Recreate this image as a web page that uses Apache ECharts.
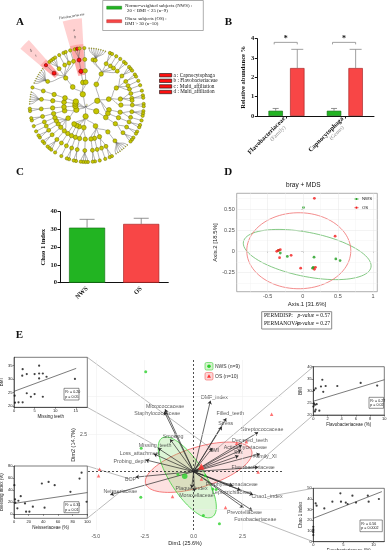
<!DOCTYPE html>
<html><head><meta charset="utf-8">
<script src="https://cdn.jsdelivr.net/npm/echarts@6/dist/echarts.min.js"></script>
<style>html,body{margin:0;padding:0;background:#fff}#c{width:389px;height:550px}</style>
</head><body><div id="c"></div>
<script>
// ================= DATA =================
// Panel A : cladogram taxa  [phylum,[ [class,[ [order,[ [family, genera] ]] ]] ]]
const cladeTaxa = [
 ['Firmicutes', [
   ['Clostridia', [['Clostridiales', [['Peptococcaceae',0],['Lachnospiraceae',8],['Peptostreptococcaceae',2],['Family_XIII',1],['Clostridiaceae',1],['Ruminococcaceae',2]]]]],
   ['Bacilli', [
     ['Lactobacillales', [['Streptococcaceae',3],['Carnobacteriaceae',2],['Lactobacillaceae',1],['Aerococcaceae',1]]],
     ['Bacillales', [['Staphylococcaceae',1],['Family_XI',2],['Bacillaceae',0]]],
     ['Gemellales', [['Gemellaceae',2]]]]],
   ['Negativicutes', [['Selenomonadales', [['Veillonellaceae',3],['Acidaminococcaceae',1]]]]],
   ['Erysipelotrichia', [['Erysipelotrichales', [['Erysipelotrichaceae',2]]]]]
 ]],
 ['Fusobacteria', [['Fusobacteriia', [['Fusobacteriales', [['Fusobacteriaceae',2],['Leptotrichiaceae',3]]]]]]],
 ['Proteobacteria', [
   ['Gammaproteobacteria', [
     ['Pasteurellales', [['Pasteurellaceae',7]]],
     ['Pseudomonadales', [['Moraxellaceae',2],['Pseudomonadaceae',1]]],
     ['Enterobacterales', [['Enterobacteriaceae',1]]],
     ['Cardiobacteriales', [['Cardiobacteriaceae',2]]]]],
   ['Betaproteobacteria', [['Neisseriales', [['Neisseriaceae',4]]],['Burkholderiales', [['Burkholderiaceae',2]]]]],
   ['Epsilonproteobacteria', [['Campylobacterales', [['Campylobacteraceae',2]]]]],
   ['Alphaproteobacteria', [['Rhizobiales', [['Rhizobiaceae',1]]]]],
   ['Deltaproteobacteria', [['Desulfovibrionales', [['Desulfovibrionaceae',1]]]]]
 ]],
 ['Actinobacteria', [
   ['Actinobacteria_c', [
     ['Actinomycetales', [['Actinomycetaceae',3]]],
     ['Micrococcales', [['Micrococcaceae',2]]],
     ['Corynebacteriales', [['Corynebacteriaceae',2]]],
     ['Propionibacteriales', [['Propionibacteriaceae',1]]],
     ['Bifidobacteriales', [['Bifidobacteriaceae',1]]]]],
   ['Coriobacteriia', [['Coriobacteriales', [['Coriobacteriaceae',2]]]]]
 ]],
 ['Spirochaetes', [['Spirochaetia', [['Spirochaetales', [['Spirochaetaceae',2]]]]]]],
 ['Saccharibacteria', [['Saccharimonadia', [['Saccharimonadales', [['Saccharimonadaceae',6]]]]]]],
 ['Synergistetes', [['Synergistia', [['Synergistales', [['Synergistaceae',1]]]]]]],
 ['Bacteroidetes', [
   ['Bacteroidia', [['Bacteroidales', [['Prevotellaceae',8],['Multi_affiliation',['Multi_affiliation']],['Porphyromonadaceae',4],['Bacteroidaceae',1],['Tannerellaceae',2],['Rikenellaceae',1]]]]],
   ['Flavobacteriia', [['Flavobacteriales', [['Flavobacteriaceae',['Bergeyella','Capnocytophaga','Flavobacterium']]]]]],
   ['Sphingobacteriia', [['Sphingobacteriales', [['Sphingobacteriaceae',1]]]]]
 ]]
];
const lefseTaxa = ['Flavobacteriales','Flavobacteriaceae','Capnocytophaga','Multi_affiliation'];
const lefseLegend = ['a : Capnocytophaga','b : Flavobacteriaceae','c : Multi_affiliation','d : Multi_affiliation'];

// Panel B
const bCategories = ['Flavobacteriaceae','Capnocytophaga'];
const bRanks = ['(Family)','(Genus)'];
const bNWS = [0.27, 0.27];
const bNWSerr = [0.12, 0.12];
const bOS = [2.48, 2.48];
const bOSerr = [0.97, 0.97];
const bSigLevel = [3.81, 3.81];

// Panel C
const cGroups = ['NWS','OS'];
const cChao = [31.0, 33.1];
const cChaoErr = [4.7, 3.2];

// Panel D (bray + MDS)
const dNWS = [[0.01,0.52],[-0.32,-0.02],[-0.22,-0.06],[0.16,-0.07],[0.14,-0.20],[0.47,-0.09],[0.53,-0.11],[-0.34,0.01],[0.15,-0.19]];
const dOS = [[0.165,0.63],[0.46,0.18],[-0.37,0.0],[-0.35,0.01],[-0.32,0.02],[-0.33,-0.076],[-0.166,-0.048],[-0.03,-0.2],[0.165,-0.214],[0.18,-0.19]];
const dEllNWS = {center:[0.063,-0.038], u:[0.907,-0.152], v:[-0.061,-0.257]};
const dEllOS = {center:[-0.057,0.007], u:[0.74,0.0], v:[0.0,0.452]};
const dXTicks = [-0.5,0,0.5,1];
const dYTicks = [-0.25,0,0.25,0.5];

// Panel E (PCA biplot)
const eNWS = [[-2.45,6.67],[-2.68,1.56],[-2.7,-1.72],[-0.8,-0.2],[0.59,-0.27],[0.98,-1.17],[1.15,-1.2],[0.5,-2.93],[1.32,-3.49]];
const eOS = [[3.99,3.83],[2.7,2.0],[3.3,-0.02],[-4.81,0.16],[-4.86,-0.27],[-1.08,-1.67],[1.63,-2.4],[0.4,-0.5],[0.45,0.3],[2.2,1.9]];
const eEllNWS = {center:[-0.325,-0.387], u:[1.29,-2.63], v:[0.74,0.61]};
const eEllOS = {center:[0.26,0.29], u:[2.71,1.10], v:[0.31,-1.27]};
const eVarNames = ['DMF_index','Filled_teeth','Stress','Streptococcaceae','Decayed_teeth','Actinomycetaceae','BMI','Sex','Family_XI','Flavobacteriaceae','Chao1_index','Fusobacteriaceae','Prevotellaceae','Leptotrichiaceae','Porphyromonadaceae','Moraxellaceae','Plaque_index','Micrococcaceae','Staphylococcaceae','Smoking','Missing_teeth','Loss_attachment','Probing_depth','BOP','Neisseriaceae'];
const eVarX = [0.86,1.67,1.44,3.3,2.47,2.44,0.96,2.3,3.39,3.3,3.04,3.0,2.55,2.4,2.0,0.04,-0.1,-1.46,-1.5,-1.2,-1.82,-2.03,-2.45,-2.97,-4.26];
const eVarY = [4.73,3.56,3.0,2.62,1.78,1.45,1.58,1.05,1.18,0.29,-1.55,-2.6,-2.4,-1.25,-0.95,-1.33,-1.1,4.16,4.0,2.16,1.56,1.18,0.78,-0.37,-1.55];
const eXTicks = [-5,-2.5,0,2.5];
const eYTicks = [2.5];

// Panel E insets
const tlMissingTeeth = [0.24,0.16,1.1,2.1,2.1,2.0,3.1,3.1,4.1,5.0,5.0,6.1,6.1,6.1,7.0,7.0,7.9,14.8];
const tlBMI = [21.2,23.8,21.35,21.35,33.6,31.2,31.8,24.7,23.4,31.8,24.4,34.9,32.0,30.2,32.0,23.4,30.8,30.0];
const tlFit = [[0,25.4],[15.1,33.9]];
const tlStats = ['R² = 0.20','p = 0.05'];
const blNeisseriaceae = [0.5,1.4,1.8,4.6,6,9.2,15,16.5,21,25.7,38,41.7,47.2,55.5,77,89.4,92.2,99];
const blBleeding = [48.2,24.7,19.2,9.9,22.5,30.1,18,4.4,4.4,12.6,51,11,53.7,48.2,37.3,59.2,69,20.8];
const blFit = [[0,18],[100,36]];
const blStats = ['R² = 0.31','p = 0.01'];
const trFlavo = [0.1,0.33,1.08,1.27,1.4,1.74,3.38,6.67,9.0,0.1,0.23,0.47,0.02,0.33,0.23,0.85];
const trBMI = [30.3,31,31.8,34.6,29.6,32.0,32,33.3,32.2,24.8,24.2,24.5,23.5,22.2,21.5,21.8];
const trFit = [[0,25.7],[10,34.6]];
const trStats = ['R² = 0.27','p = 0.02'];
const brFuso = [0.39,0.55,1.83,3.17,4.6,4.5,5.4,5.7,6.5,7.1,9.06,9.2,10.9,0,0,0,0,0];
const brChao = [35.9,33.7,31.2,37.5,37.5,45.3,36.6,35.3,43.1,36.6,43.1,37.5,40,14,11.6,10.3,8.75,6.25];
const brFit = [[0,21.9],[11.4,46.9]];
const brStats = ['R² = 0.56','p = 0.0002'];

// ================= STYLE / LAYOUT =================
const serif = '"Liberation Serif","Times New Roman",serif';
const sans = '"Liberation Sans",Arial,sans-serif';
const cGreen = '#22b422', cGreenDark = '#0b6a0b', cRed = '#f84646', cRedDark = '#9e1a1a';
const eVarLabelOffset = [[4,-3],[4,-5],[4,-3],[4,-3],[8,-4],[4,-2],[2,3],[0,-3],[5,3],[-5,0],[14,2],[3,9],[1,5],[-9,2],[-1,-1],[2,4],[0,0],[0,-3],[-7,2],[3,-3],[-3,-3],[-14,0],[-15,2],[-5,2],[10,-3]];
const treeBox = {left:29.7, top:48, size:114};
const depthSize = [2, 5.4, 4.8, 4.4, 4.0, 3.3];

function mkNode(name, depth, kids, size){
  const n = {name, symbolSize: size!=null?size:depthSize[depth]};
  if (lefseTaxa.includes(name)) n.itemStyle = {color:'#ff1010', borderColor:'#700', borderWidth:0.6};
  if (kids && kids.length) n.children = kids;
  return n;
}
function buildFamily(f){
  const names = typeof f[1]==='number' ? Array.from({length:f[1]},(_,i)=>f[0]+'_g'+(i+1)) : f[1];
  const fan = names.length >= 6;
  return mkNode(f[0], 4, names.map(g=>mkNode(g,5,null, fan?0.8:undefined)));
}
const cladeRoot = mkNode('Bacteria', 0, cladeTaxa.map(p=>mkNode(p[0],1,p[1].map(c=>mkNode(c[0],2,c[1].map(o=>mkNode(o[0],3,o[1].map(buildFamily))))))));
cladeRoot.itemStyle = {color:'#e8e8a0', borderColor:'#999', borderWidth:0.3};

function ellipseSeries(ai, spec, stroke, fill, lw, z){
  return {type:'custom', xAxisIndex:ai, yAxisIndex:ai, silent:true, z:z||1, data:[spec.center],
    renderItem:(params, api)=>{
      const pts=[];
      for(let k=0;k<90;k++){const t=k/90*2*Math.PI;
        pts.push(api.coord([spec.center[0]+Math.cos(t)*spec.u[0]+Math.sin(t)*spec.v[0], spec.center[1]+Math.cos(t)*spec.u[1]+Math.sin(t)*spec.v[1]]));}
      return {type:'polygon', shape:{points:pts}, style:{fill:fill, stroke:stroke, lineWidth:lw}};
    }};
}
function errorBarSeries(ai, vals, errs, offset, capHalf, color){
  return {type:'custom', xAxisIndex:ai, yAxisIndex:ai, silent:true, z:3,
    data: vals.map((v,i)=>[i, v, v+errs[i]]),
    renderItem:(params, api)=>{
      const p0=api.coord([api.value(0), api.value(1)]), p1=api.coord([api.value(0), api.value(2)]);
      const x=p0[0]+offset;
      return {type:'group', children:[
        {type:'line', shape:{x1:x,y1:p0[1],x2:x,y2:p1[1]}, style:{stroke:color, lineWidth:0.8}},
        {type:'line', shape:{x1:x-capHalf,y1:p1[1],x2:x+capHalf,y2:p1[1]}, style:{stroke:color, lineWidth:0.8}}]};
    }};
}
const prismAxisLine = {show:true, lineStyle:{color:'#111', width:1}};
const insetLine = {show:true, lineStyle:{color:'#222', width:0.6}};
const insetTick = {show:true, length:1.5, lineStyle:{color:'#222', width:0.5}};
const insetLabel = {fontSize:4, color:'#222', margin:1.5, fontFamily:sans};
const insetName = {fontSize:4.5, color:'#222', fontFamily:sans};
function insetX(gi, min, max, name, ticks, interval){
  const a = {type:'value', gridIndex:gi, min, max, name, nameLocation:'middle', nameGap:7, nameTextStyle:insetName,
    axisLine:insetLine, axisTick:insetTick, axisLabel:Object.assign({}, insetLabel), splitLine:{show:false}};
  if (ticks){a.axisLabel.customValues=ticks; a.axisTick=Object.assign({customValues:ticks}, insetTick);} else a.interval=interval;
  return a;
}
function insetY(gi, min, max, name, ticks, interval){
  const a = insetX(gi, min, max, name, ticks, interval); a.nameGap = 7; return a;
}
const gridBase = {containLabel:false, outerBoundsMode:'none'};
const insetGrid = {show:true, borderColor:'#222', borderWidth:0.6, backgroundColor:'#fff'};
const grids = [
  Object.assign({left:257.3, top:38.7, width:116.7, height:77.3}, gridBase),
  Object.assign({left:60, top:211.7, width:108.3, height:71}, gridBase),
  Object.assign({left:236.7, top:193.3, width:140.6, height:98.4, show:true, borderColor:'#8c8c8c', borderWidth:0.7}, gridBase),
  Object.assign({left:88, top:360, width:194, height:170}, gridBase),
  Object.assign({left:14, top:357.3, width:73.3, height:50}, gridBase, insetGrid),
  Object.assign({left:14, top:466, width:73.3, height:52.3}, gridBase, insetGrid),
  Object.assign({left:313.3, top:366.7, width:71, height:48.3}, gridBase, insetGrid),
  Object.assign({left:313.3, top:488.3, width:71, height:53.4}, gridBase, insetGrid)
];
const ggLabel = {fontSize:5.5, color:'#4d4d4d', margin:2, fontFamily:sans};
const ggTick = {show:true, length:1.5, lineStyle:{color:'#555', width:0.5}};

const xAxis = [
  {type:'category', gridIndex:0, data:bCategories, axisLine:prismAxisLine, axisTick:{show:true, alignWithLabel:true, length:2.5, lineStyle:{color:'#111'}},
    axisLabel:{interval:0, rotate:45, margin:4, formatter:(v,i)=>'{n|'+v+'}\n{r|'+bRanks[i]+'}',
      rich:{n:{fontFamily:serif, fontWeight:'bold', fontSize:6.5, color:'#111'}, r:{fontFamily:serif, fontSize:5.5, color:'#888', padding:[0,6,0,0]}}}},
  {type:'category', gridIndex:1, data:cGroups, axisLine:prismAxisLine, axisTick:{show:false},
    axisLabel:{interval:0, rotate:45, margin:5, fontFamily:serif, fontWeight:'bold', fontSize:6.5, color:'#111'}},
  {type:'value', gridIndex:2, min:-0.94, max:1.06, splitLine:{show:false}, axisLine:{show:false},
    axisTick:Object.assign({customValues:dXTicks}, ggTick), axisLabel:Object.assign({customValues:dXTicks, formatter:v=>String(v)}, ggLabel),
    name:'Axis.1 [31.6%]', nameLocation:'middle', nameGap:10, nameTextStyle:{fontSize:6, color:'#222', fontFamily:sans}},
  {type:'value', gridIndex:3, min:-5.4, max:4.52, splitLine:{show:false}, axisLine:{show:false},
    axisTick:{show:false}, axisLabel:Object.assign({customValues:eXTicks, formatter:v=>v.toFixed(1)}, ggLabel, {fontSize:5, margin:4}),
    name:'Dim1 (25.6%)', nameLocation:'middle', nameGap:10, nameTextStyle:{fontSize:5.5, color:'#222', fontFamily:sans}},
  insetX(4, 0, 17.8, 'Missing teeth', [0,5,10,15]),
  insetX(5, 0, 100, 'Neisseriaceae (%)', null, 20),
  insetX(6, 0, 10, 'Flavobacteriaceae (%)', null, 2),
  insetX(7, 0, 11.8, 'Fusobacteriaceae (%)', [0,5,10])
];
const yAxis = [
  {type:'value', gridIndex:0, min:0, max:4, interval:1, splitLine:{show:false}, axisLine:prismAxisLine,
    axisTick:{show:true, length:2.5, lineStyle:{color:'#111'}}, axisLabel:{fontFamily:serif, fontWeight:'bold', fontSize:6.5, color:'#111', margin:3},
    name:'Relative abundance %', nameLocation:'middle', nameGap:9, nameTextStyle:{fontFamily:serif, fontWeight:'bold', fontSize:6.5, color:'#111'}},
  {type:'value', gridIndex:1, min:0, max:40, interval:10, splitLine:{show:false}, axisLine:prismAxisLine,
    axisTick:{show:true, length:2.5, lineStyle:{color:'#111'}}, axisLabel:{fontFamily:serif, fontWeight:'bold', fontSize:6.5, color:'#111', margin:3},
    name:'Chao 1 index', nameLocation:'middle', nameGap:12, nameTextStyle:{fontFamily:serif, fontWeight:'bold', fontSize:6.5, color:'#111'}},
  {type:'value', gridIndex:2, min:-0.48, max:0.69, splitLine:{show:false}, axisLine:{show:false},
    axisTick:Object.assign({customValues:dYTicks}, ggTick), axisLabel:Object.assign({customValues:dYTicks, formatter:v=>v===0?'0':v.toFixed(2)}, ggLabel),
    name:'Axis.2 [18.5%]', nameLocation:'middle', nameGap:15, nameTextStyle:{fontSize:6, color:'#222', fontFamily:sans}},
  {type:'value', gridIndex:3, min:-3.9, max:7.45, splitLine:{show:false}, axisLine:{show:false}, axisTick:{show:false},
    axisLabel:Object.assign({customValues:eYTicks, formatter:v=>v.toFixed(1)}, ggLabel, {fontSize:5, margin:1}),
    name:'Dim2 (14.7%)', nameLocation:'middle', nameGap:8, nameTextStyle:{fontSize:5.5, color:'#222', fontFamily:sans}},
  insetY(4, 19.5, 38, 'BMI', [20,25,30,35]),
  insetY(5, -6.6, 80, 'Bleeding index (%)', [0,20,40,60,80]),
  insetY(6, 20, 40, 'BMI', null, 5),
  insetY(7, 0, 50, 'Chao 1 index', null, 10)
];

const mean = arr => [arr.reduce((s,p)=>s+p[0],0)/arr.length, arr.reduce((s,p)=>s+p[1],0)/arr.length];
const gridMark = (xs, ys, color) => ({silent:true, symbol:'none', label:{show:false}, animation:false,
  lineStyle:{color, width:0.5, type:'solid'}, data:[...xs.map(v=>({xAxis:v})), ...ys.map(v=>({yAxis:v}))]});
const bOffset = (14.4 + 7.2)/2;

const series = [
  // A cladogram
  {type:'tree', layout:'radial', data:[cladeRoot], left:treeBox.left, top:treeBox.top, width:treeBox.size, height:treeBox.size,
    symbol:'circle', roam:false, expandAndCollapse:false, initialTreeDepth:-1, z:3,
    label:{show:false}, leaves:{label:{show:false}}, emphasis:{disabled:true},
    lineStyle:{color:'#666', width:0.5, curveness:0.5},
    itemStyle:{color:'#c6c600', borderColor:'#6e6e00', borderWidth:0.5}},
  // B
  {type:'bar', name:'NWS', xAxisIndex:0, yAxisIndex:0, data:bNWS, barWidth:14.4, barGap:'50%', z:2,
    itemStyle:{color:cGreen, borderColor:cGreenDark, borderWidth:0.6}},
  {type:'bar', name:'OS', xAxisIndex:0, yAxisIndex:0, data:bOS, barWidth:14.4, barGap:'50%', z:2,
    itemStyle:{color:cRed, borderColor:cRedDark, borderWidth:0.6}},
  errorBarSeries(0, bNWS, bNWSerr, -bOffset, 3, '#777'),
  errorBarSeries(0, bOS, bOSerr, bOffset, 6, '#888'),
  {type:'custom', xAxisIndex:0, yAxisIndex:0, silent:true, z:3, data:bSigLevel.map((y,i)=>[i,y]),
    renderItem:(params, api)=>{
      const c=api.coord([api.value(0), api.value(1)]); const x1=c[0]-bOffset-1.5, x2=c[0]+bOffset;
      return {type:'group', children:[
        {type:'polyline', shape:{points:[[x1,c[1]+2],[x1,c[1]],[x2,c[1]],[x2,c[1]+2]]}, style:{stroke:'#888', lineWidth:0.8, fill:null}},
        {type:'text', style:{x:(x1+x2)/2, y:c[1]-3.5, text:'*', fontSize:8, fontWeight:'bold', fill:'#111', align:'center', verticalAlign:'middle', fontFamily:serif}}]};
    }},
  // C
  {type:'bar', name:'Chao1', xAxisIndex:1, yAxisIndex:1, barWidth:36, z:2,
    data:cChao.map((v,i)=>({value:v, itemStyle: i===0 ? {color:cGreen, borderColor:cGreenDark, borderWidth:0.6} : {color:cRed, borderColor:cRedDark, borderWidth:0.6}}))},
  errorBarSeries(1, cChao, cChaoErr, 0, 7.5, '#777'),
  // D
  {type:'scatter', xAxisIndex:2, yAxisIndex:2, data:[], z:0, markLine:gridMark([-0.75,-0.25,0.25,0.75],[-0.375,-0.125,0.125,0.375,0.625],'#f2f2f2')},
  {type:'scatter', xAxisIndex:2, yAxisIndex:2, data:[], z:0, markLine:gridMark(dXTicks,dYTicks,'#e6e6e6')},
  ellipseSeries(2, dEllNWS, '#66bb66', 'none', 0.8),
  ellipseSeries(2, dEllOS, '#f07070', 'none', 0.8),
  {type:'scatter', name:'NWS', xAxisIndex:2, yAxisIndex:2, data:dNWS, symbolSize:2.8, itemStyle:{color:'#1f9e1f'}, z:4},
  {type:'scatter', name:'OS', xAxisIndex:2, yAxisIndex:2, data:dOS, symbolSize:2.8, itemStyle:{color:'#f21c1c'}, z:5},
  // E main
  {type:'scatter', xAxisIndex:3, yAxisIndex:3, data:[], z:0, markLine:gridMark([-5,-2.5,2.5],[-2.5,2.5,5,7.5],'#ececec')},
  {type:'scatter', xAxisIndex:3, yAxisIndex:3, data:[], z:1, markLine:{silent:true, symbol:'none', label:{show:false},
    lineStyle:{color:'#222', width:0.8, type:[2,2]}, data:[{xAxis:0},{yAxis:0}]}},
  ellipseSeries(3, eEllOS, '#f25c5c', 'rgba(245,120,120,0.22)', 0.8),
  ellipseSeries(3, eEllNWS, '#3cd23c', 'rgba(120,215,90,0.25)', 0.8),
  {type:'lines', coordinateSystem:'cartesian2d', xAxisIndex:3, yAxisIndex:3, z:3, silent:true,
    data:eVarNames.map((n,i)=>({coords:[[0,0],[eVarX[i],eVarY[i]]]})),
    symbol:['none','arrow'], symbolSize:[0,3.5], lineStyle:{color:'#2a2a2a', width:0.7, opacity:1, curveness:0}},
  {type:'scatter', xAxisIndex:3, yAxisIndex:3, z:4, silent:true, symbolSize:1, itemStyle:{color:'transparent'},
    data:eVarNames.map((n,i)=>({name:n, value:[eVarX[i],eVarY[i]], label:{offset:eVarLabelOffset[i]}})),
    label:{show:true, position:'inside', formatter:p=>p.name, fontSize:5.3, color:'#333', fontFamily:sans}},
  {type:'scatter', name:'NWS (n=9)', xAxisIndex:3, yAxisIndex:3, z:5, data:eNWS, symbol:'circle', symbolSize:3, itemStyle:{color:'#2bd12b'}},
  {type:'scatter', name:'OS (n=10)', xAxisIndex:3, yAxisIndex:3, z:5, data:eOS, symbol:'triangle', symbolSize:3.5, itemStyle:{color:'#ff4f4f'}},
  {type:'scatter', xAxisIndex:3, yAxisIndex:3, z:6, data:[mean(eNWS)], symbol:'circle', symbolSize:5.5, itemStyle:{color:'#2bd12b'}},
  {type:'scatter', xAxisIndex:3, yAxisIndex:3, z:6, data:[mean(eOS)], symbol:'triangle', symbolSize:6.5, itemStyle:{color:'#ff3030'}},
];
// E insets
[[4,tlMissingTeeth,tlBMI,tlFit],[5,blNeisseriaceae,blBleeding,blFit],[6,trFlavo,trBMI,trFit],[7,brFuso,brChao,brFit]].forEach(([gi,xs,ys,fit])=>{
  series.push({type:'line', xAxisIndex:gi, yAxisIndex:gi, data:fit, showSymbol:false, symbol:'none', z:5, silent:true, lineStyle:{color:'#222', width:0.6}});
  series.push({type:'scatter', xAxisIndex:gi, yAxisIndex:gi, data:xs.map((x,i)=>[x,ys[i]]), symbol:'circle', symbolSize:2.2, z:6, silent:true, itemStyle:{color:'#111'}});
});

// static graphics (panel letters, legends, annotations)
const txt = (x,y,text,o) => ({type:'text', silent:true, z:20, style:Object.assign({x,y,text,fill:'#111',fontFamily:serif,fontSize:5,verticalAlign:'middle'},o||{})});
const statics = [
  txt(20,21.7,'A',{fontSize:11,fontWeight:'bold',align:'center'}),
  txt(228.3,21.7,'B',{fontSize:11,fontWeight:'bold',align:'center'}),
  txt(20,171.7,'C',{fontSize:11,fontWeight:'bold',align:'center'}),
  txt(228.3,171.7,'D',{fontSize:11,fontWeight:'bold',align:'center'}),
  txt(19.3,335,'E',{fontSize:11,fontWeight:'bold',align:'center'}),
  // A group legend
  {type:'rect', silent:true, z:20, shape:{x:102.7,y:0.5,width:100.6,height:30}, style:{fill:'none', stroke:'#777', lineWidth:0.6}},
  {type:'rect', silent:true, z:20, shape:{x:106.7,y:6.2,width:15,height:3}, style:{fill:cGreen, stroke:cGreenDark, lineWidth:0.4}},
  {type:'rect', silent:true, z:20, shape:{x:106.7,y:19.7,width:15,height:3}, style:{fill:cRed, stroke:cRedDark, lineWidth:0.4}},
  txt(125,6,'Normo-weighted subjects (NWS) :',{fontSize:4.8}),
  txt(127,10.6,'20 < BMI < 25 (n=9)',{fontSize:4.8}),
  txt(125,19.2,'Obese subjects (OS) :',{fontSize:4.8}),
  txt(125,24,'BMI > 30 (n=10)',{fontSize:4.8}),
  // D title, legend, PERM box
  txt(303.3,185,'bray + MDS',{fontFamily:sans, fontSize:6.5, align:'center'}),
  {type:'line', silent:true, z:20, shape:{x1:354,y1:199,x2:359,y2:199}, style:{stroke:'#66bb66', lineWidth:0.6}},
  {type:'circle', silent:true, z:20, shape:{cx:356.5,cy:199,r:1.1}, style:{fill:'#1f9e1f'}},
  txt(362,199,'NWS',{fontFamily:sans, fontSize:4.3}),
  {type:'line', silent:true, z:20, shape:{x1:354,y1:207.7,x2:359,y2:207.7}, style:{stroke:'#f07070', lineWidth:0.6}},
  {type:'circle', silent:true, z:20, shape:{cx:356.5,cy:207.7,r:1.1}, style:{fill:'#f21c1c'}},
  txt(362,207.7,'OS',{fontFamily:sans, fontSize:4.3}),
  {type:'rect', silent:true, z:20, shape:{x:261.7,y:311.7,width:70,height:17.3}, style:{fill:'none', stroke:'#8a8a8a', lineWidth:1}},
  txt(264,315.8,'PERMDISP:',{fontSize:5.6}),
  txt(330,315.8,'{i|p-value} = 0.57',{fontSize:5.6, align:'right', rich:{i:{fontStyle:'italic', fontFamily:serif, fontSize:5.6}}}),
  txt(264,324,'PERMANOVA :',{fontSize:5.6}),
  txt(330,324,'{i|p-value} = 0.27',{fontSize:5.6, align:'right', rich:{i:{fontStyle:'italic', fontFamily:serif, fontSize:5.6}}}),
  // E legend
  {type:'rect', silent:true, z:20, shape:{x:205,y:362.5,width:8,height:7.5,r:1.5}, style:{fill:'rgba(120,215,90,0.3)', stroke:'#3cd23c', lineWidth:0.6}},
  {type:'circle', silent:true, z:21, shape:{cx:209,cy:366.2,r:1.8}, style:{fill:'#2bd12b'}},
  txt(215,366.4,'NWS (n=9)',{fontFamily:sans, fontSize:5, fill:'#333'}),
  {type:'rect', silent:true, z:20, shape:{x:205,y:372.5,width:8,height:7.5,r:1.5}, style:{fill:'rgba(245,120,120,0.3)', stroke:'#f25c5c', lineWidth:0.6}},
  {type:'polygon', silent:true, z:21, shape:{points:[[209,374.2],[211,377.8],[207,377.8]]}, style:{fill:'#ff3030'}},
  txt(215,376.4,'OS (n=10)',{fontFamily:sans, fontSize:5, fill:'#333'})
];
// A lefse legend
lefseLegend.forEach((t,i)=>{
  const y = 73.5 + i*5.6;
  statics.push({type:'rect', silent:true, z:20, shape:{x:159.5,y:y,width:12.2,height:3.4}, style:{fill:'#ff1010', stroke:'#111', lineWidth:0.6}});
  statics.push(txt(173.5,y+1.7,t,{fontSize:5.2}));
});
// inset stats boxes
[[64,388.3,15,11.7,tlStats],[64,501.7,15,11,blStats],[369,397.3,14.5,11,trStats],[360,520,22.3,11.7,brStats]].forEach(([x,y,w,h,s])=>{
  statics.push({type:'rect', silent:true, z:20, shape:{x,y,width:w,height:h}, style:{fill:'#fff', stroke:'#222', lineWidth:0.5}});
  statics.push(txt(x+1.3,y+h*0.3,s[0],{fontFamily:sans,fontSize:3.6}));
  statics.push(txt(x+1.3,y+h*0.72,s[1],{fontFamily:sans,fontSize:3.6}));
});

const chart = echarts.init(document.getElementById('c'), null, {renderer:'canvas', width:389, height:550});
chart.setOption({animation:false, textStyle:{fontFamily:sans}, grid:grids, xAxis, yAxis, series, graphic:{elements:statics}});

// ---- dynamic decorations computed from the rendered layout ----
const dyn = [];
try {
  const sm = chart.getModel().getSeriesByIndex(0);
  const td = sm.getData();
  const lay = {};
  for (let i=0;i<td.count();i++){ const nm=td.getName(i); (lay[nm]=lay[nm]||[]).push(td.getItemLayout(i)); }
  const cx = treeBox.left + treeBox.size/2, cy = treeBox.top + treeBox.size/2, R = treeBox.size/2;
  const wedge = (rootL, leafLs, labels, title) => {
    const angs = leafLs.map(l=>l.rawX);
    const a0 = Math.min(...angs)-0.07, a1 = Math.max(...angs)+0.07, am=(a0+a1)/2;
    dyn.push({type:'sector', silent:true, z:0, shape:{cx,cy,r0:rootL.rawY-4,r:R+30,startAngle:a0-Math.PI/2,endAngle:a1-Math.PI/2,clockwise:true},
      style:{fill:'rgba(255,90,90,0.28)'}});
    dyn.push({type:'sector', silent:true, z:0, shape:{cx,cy,r0:rootL.rawY-4,r:R+4,startAngle:a0-Math.PI/2,endAngle:a1-Math.PI/2,clockwise:true},
      style:{fill:'rgba(255,60,60,0.25)'}});
    labels.forEach(([t,r])=>dyn.push({type:'text', silent:true, z:21, x:cx+r*Math.sin(am), y:cy-r*Math.cos(am), rotation:-am,
      style:{text:t, fontSize:4, fill:'#333', fontFamily:serif, align:'center', verticalAlign:'middle'}}));
    if (title) dyn.push({type:'text', silent:true, z:21, x:cx+(R+31)*Math.sin(am), y:cy-(R+31)*Math.cos(am), rotation:-am,
      style:{text:title, fontSize:3.6, fill:'#222', fontFamily:serif, align:'center', verticalAlign:'bottom'}});
  };
  wedge(lay['Flavobacteriales'][0], [lay['Bergeyella'][0], lay['Flavobacterium'][0]], [['a',R+19],['b',R+12]], 'Flavobacteriaceae');
  wedge(lay['Multi_affiliation'][0], [lay['Multi_affiliation'][1]], [['d',R+21],['c',R+14]], null);
} catch(e) { console.log(e); }
// connectors from insets to variable labels
const varPx = name => { const i=eVarNames.indexOf(name); const p=chart.convertToPixel({gridIndex:3}, [eVarX[i],eVarY[i]]); return [p[0]+eVarLabelOffset[i][0], p[1]+eVarLabelOffset[i][1]]; };
const corner = (gi, right, bottom) => { const g=grids[gi]; return [g.left+(right?g.width:0), g.top+(bottom?g.height:0)]; };
[[corner(4,1,0),'BMI'],[corner(4,1,1),'Missing_teeth'],[corner(5,1,0),'BOP'],[corner(5,1,1),'Neisseriaceae'],
 [corner(6,0,0),'BMI'],[corner(6,0,1),'Flavobacteriaceae'],[corner(7,0,0),'Chao1_index'],[corner(7,0,1),'Fusobacteriaceae']].forEach(([c,n])=>{
  const p = varPx(n);
  dyn.push({type:'line', silent:true, z:2, shape:{x1:c[0],y1:c[1],x2:p[0],y2:p[1]}, style:{stroke:'#777', lineWidth:0.5}});
});
chart.setOption({graphic:{elements:statics.concat(dyn)}});
</script></body></html>
